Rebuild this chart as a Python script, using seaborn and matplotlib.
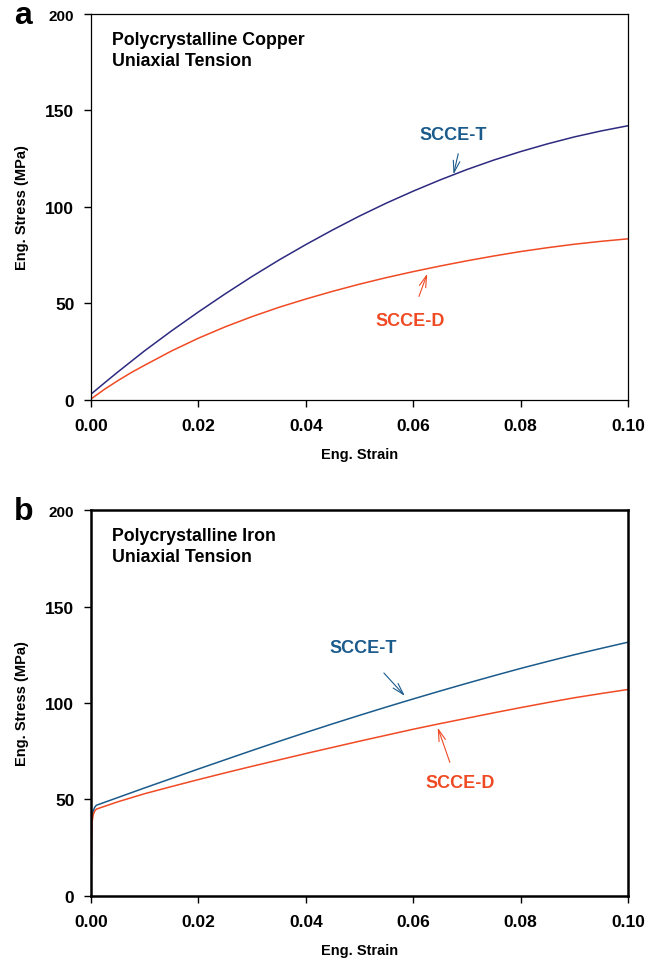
import numpy as np
import pandas as pd
import matplotlib
matplotlib.use("Agg")
import matplotlib.pyplot as plt
import seaborn as sns

# Panel a - polycrystalline copper
cu_strain = [0.0, 0.0025, 0.005, 0.0075, 0.01, 0.015, 0.02, 0.025, 0.03, 0.035, 0.04,
             0.045, 0.05, 0.055, 0.06, 0.065, 0.07, 0.075, 0.08, 0.085, 0.09, 0.095, 0.10]
cu_scce_t = [3.0, 8.8, 14.5, 20.0, 25.5, 35.8, 45.6, 55.0, 64.0, 72.5, 80.5,
             88.1, 95.3, 102.0, 108.2, 114.0, 119.4, 124.3, 128.7, 132.7, 136.3, 139.4, 142.1]
cu_scce_d = [0.5, 5.5, 10.0, 14.2, 18.0, 25.4, 32.0, 37.9, 43.2, 48.0, 52.3,
             56.3, 60.0, 63.4, 66.5, 69.4, 72.1, 74.6, 76.9, 78.9, 80.7, 82.2, 83.5]

# Panel b - polycrystalline iron
fe_strain = [0.0, 0.0001, 0.0002, 0.0004, 0.0007, 0.001, 0.005, 0.01, 0.015, 0.02, 0.025,
             0.03, 0.035, 0.04, 0.045, 0.05, 0.055, 0.06, 0.065, 0.07, 0.075, 0.08,
             0.085, 0.09, 0.095, 0.10]
fe_scce_t = [0.0, 30.0, 40.0, 44.0, 46.0, 47.0, 51.0, 56.0, 60.9, 65.8, 70.6,
             75.4, 80.1, 84.7, 89.2, 93.6, 97.9, 102.1, 106.2, 110.2, 114.1, 117.9,
             121.5, 125.0, 128.3, 131.5]
fe_scce_d = [0.0, 28.0, 38.0, 42.0, 44.0, 45.0, 48.8, 53.0, 56.7, 60.3, 63.8,
             67.2, 70.5, 73.8, 77.0, 80.2, 83.3, 86.4, 89.3, 92.1, 94.9, 97.6,
             100.2, 102.7, 104.9, 107.0]

x_ticks = [0.0, 0.02, 0.04, 0.06, 0.08, 0.10]
y_ticks = [0, 50, 100, 150, 200]

sns.set_theme(style="ticks")
plt.rcParams['font.family'] = ['Liberation Sans', 'DejaVu Sans']
plt.rcParams['font.weight'] = 'bold'
plt.rcParams['text.color'] = 'black'
plt.rcParams['axes.labelcolor'] = 'black'
plt.rcParams['xtick.color'] = 'black'
plt.rcParams['ytick.color'] = 'black'

navy = '#2d2a80'
steel = '#1b5b8c'
orange = '#f04a24'
arrow_style = '->,head_length=0.7,head_width=0.2'

fig = plt.figure(figsize=(6.48, 9.62), dpi=100)
ax_a = fig.add_axes([0.1404, 0.5832, 0.8287, 0.4012])
ax_b = fig.add_axes([0.1404, 0.0676, 0.8287, 0.4012])


def make_df(strain, t, d):
    return pd.DataFrame({
        'strain': list(strain) * 2,
        'stress': list(t) + list(d),
        'model': ['SCCE-T'] * len(t) + ['SCCE-D'] * len(d),
    })


def style_axes(ax, lw, title):
    ax.set_xlim(0, 0.10)
    ax.set_ylim(0, 200)
    ax.set_xticks(x_ticks)
    ax.set_yticks(y_ticks)
    ax.set_xticklabels([f"{v:.2f}" for v in x_ticks])
    ax.set_yticklabels([str(v) for v in y_ticks])
    for lbl in ax.get_xticklabels() + ax.get_yticklabels():
        lbl.set_fontsize(12.5)
        lbl.set_fontweight('bold')
    ax.get_yticklabels()[-1].set_fontsize(11)
    ax.tick_params(direction='out', length=5, width=1, color='black')
    ax.tick_params(axis='y', pad=7)
    ax.tick_params(axis='x', pad=8)
    for s in ax.spines.values():
        s.set_visible(True)
        s.set_linewidth(lw)
        s.set_color('black')
    ax.set_xlabel('Eng. Strain', fontsize=10.5, fontweight='bold', labelpad=10)
    ax.set_ylabel('Eng. Stress (MPa)', fontsize=10.5, fontweight='bold', labelpad=12)
    ax.text(0.04, 0.955, title, transform=ax.transAxes, ha='left', va='top',
            fontsize=12.8, fontweight='bold', linespacing=1.3)
    ax.set_facecolor('white')
    ax.grid(False)


# Panel a
df_a = make_df(cu_strain, cu_scce_t, cu_scce_d)
sns.lineplot(data=df_a, x='strain', y='stress', hue='model',
             palette={'SCCE-T': navy, 'SCCE-D': orange}, linewidth=1.1,
             legend=False, ax=ax_a)
style_axes(ax_a, 0.9, 'Polycrystalline Copper\nUniaxial Tension')
ax_a.annotate('', xy=(0.0674, 115.5), xytext=(0.0685, 129),
              arrowprops=dict(arrowstyle=arrow_style, color=steel, lw=0.8))
ax_a.text(0.0674, 137.8, 'SCCE-T', color=steel, ha='center', va='center',
          fontsize=13, fontweight='bold')
ax_a.annotate('', xy=(0.0628, 66.8), xytext=(0.0609, 52.3),
              arrowprops=dict(arrowstyle=arrow_style, color=orange, lw=0.8))
ax_a.text(0.0594, 41, 'SCCE-D', color=orange, ha='center', va='center',
          fontsize=13, fontweight='bold')

# Panel b
df_b = make_df(fe_strain, fe_scce_t, fe_scce_d)
sns.lineplot(data=df_b, x='strain', y='stress', hue='model',
             palette={'SCCE-T': steel, 'SCCE-D': orange}, linewidth=1.1,
             legend=False, ax=ax_b)
style_axes(ax_b, 1.8, 'Polycrystalline Iron\nUniaxial Tension')
ax_b.annotate('', xy=(0.0588, 102.6), xytext=(0.0542, 116.6),
              arrowprops=dict(arrowstyle=arrow_style, color=steel, lw=0.8))
ax_b.text(0.0507, 129, 'SCCE-T', color=steel, ha='center', va='center',
          fontsize=13, fontweight='bold')
ax_b.annotate('', xy=(0.0644, 88.6), xytext=(0.0670, 67.9),
              arrowprops=dict(arrowstyle=arrow_style, color=orange, lw=0.8))
ax_b.text(0.0687, 59, 'SCCE-D', color=orange, ha='center', va='center',
          fontsize=13, fontweight='bold')

fig.text(14 / 648, 1 - 16 / 962, 'a', fontsize=23, fontweight='bold', ha='left', va='center')
fig.text(14 / 648, 1 - 512 / 962, 'b', fontsize=23, fontweight='bold', ha='left', va='center')

fig.savefig('out.png', dpi=100, facecolor='white')
